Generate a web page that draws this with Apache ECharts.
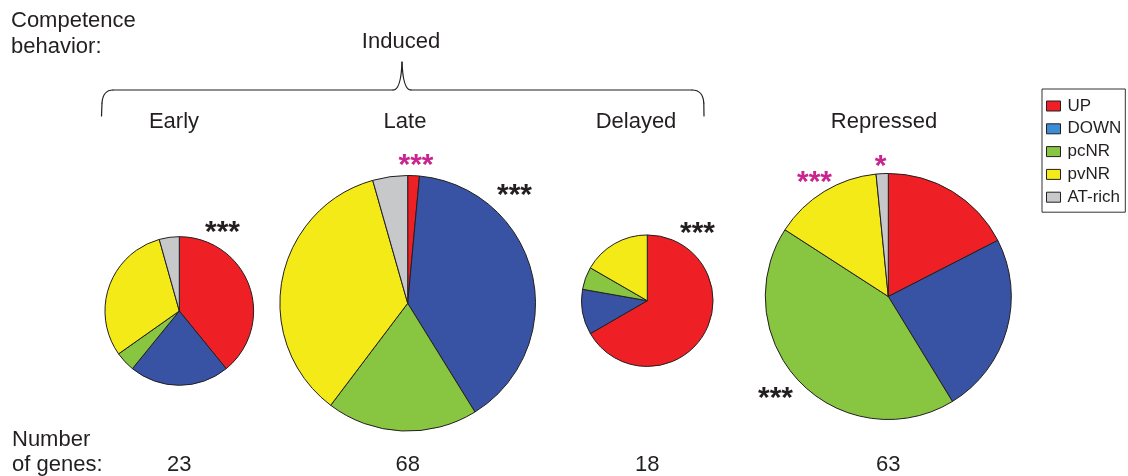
<!DOCTYPE html>
<html>
<head>
<meta charset="utf-8">
<script src="https://cdn.jsdelivr.net/npm/echarts@6/dist/echarts.min.js"></script>
<style>
  html, body { margin: 0; padding: 0; background: #fff; }
  #chart { width: 1128px; height: 476px; }
</style>
</head>
<body>
<div id="chart"></div>
<script>
// Competence gene groups and the number of genes in each promoter class
const groups = ['Early', 'Late', 'Delayed', 'Repressed'];
const classes = ['UP', 'DOWN', 'pcNR', 'pvNR', 'AT-rich'];
const upGenes = [9, 1, 12, 11];
const downGenes = [5, 27, 2, 15];
const pcnrGenes = [1, 13, 1, 27];
const pvnrGenes = [7, 24, 3, 9];
const atRichGenes = [1, 3, 0, 1];

const classValues = [upGenes, downGenes, pcnrGenes, pvnrGenes, atRichGenes];
const totals = groups.map((g, i) => classValues.reduce((s, arr) => s + arr[i], 0));

// styling
const FONT = '"Liberation Sans", Arial, Helvetica, sans-serif';
const INK = '#231F20';
const MAGENTA = '#C8258F';
const sliceColors = ['#EE1F25', '#3853A4', '#88C540', '#F3EA18', '#C7C8CA'];
const legendColors = ['#EE1F25', '#3C8CD6', '#88C540', '#F3EA18', '#C7C8CA'];
const pieCenters = [[179.3, 311], [407.7, 303.3], [647.3, 300.7], [888.3, 296.5]];
const groupTitleX = [174, 405, 636, 884];
const RADIUS_PER_SQRT_GENE = 15.5; // pie area proportional to gene count

const series = groups.map((g, i) => ({
  type: 'pie',
  name: g,
  center: pieCenters[i],
  radius: RADIUS_PER_SQRT_GENE * Math.sqrt(totals[i]),
  startAngle: 90,
  clockwise: true,
  silent: true,
  label: { show: false },
  labelLine: { show: false },
  emphasis: { disabled: true },
  itemStyle: { borderColor: INK, borderWidth: 1 },
  data: classes
    .map((c, j) => ({ name: c, value: classValues[j][i], itemStyle: { color: sliceColors[j] } }))
    .filter(d => d.value > 0)
}));

function txt(text, x, y, opts) {
  return {
    type: 'text', x: x, y: y, silent: true,
    style: Object.assign({
      text: text, fill: INK, font: '22px ' + FONT,
      align: 'left', verticalAlign: 'middle'
    }, opts || {})
  };
}
function stars(text, x, y, color) {
  return txt(text, x, y, { fill: color, font: 'bold 30px ' + FONT, align: 'center' });
}

// curly brace grouping the induced categories
const braceStyle = { stroke: INK, lineWidth: 1.2, fill: 'none', lineCap: 'round' };
function seg(x1, y1, x2, y2) {
  return { type: 'line', silent: true, shape: { x1, y1, x2, y2 }, style: braceStyle };
}
function curve(x1, y1, cpx1, cpy1, x2, y2) {
  return { type: 'bezierCurve', silent: true, shape: { x1, y1, cpx1, cpy1, x2, y2 }, style: braceStyle };
}
const brace = [
  seg(101.5, 116, 102, 103),
  curve(102, 103, 103, 90, 113, 90),
  seg(113, 90, 393, 90),
  curve(393, 90, 401, 90, 402, 62),
  curve(402, 62, 403, 90, 411, 90),
  seg(411, 90, 692, 90),
  curve(692, 90, 703, 90, 703.8, 103),
  seg(703.8, 103, 704, 116)
];

const graphic = [
  txt('Competence', 11, 20.6),
  txt('behavior:', 11, 47.3),
  txt('Induced', 401, 42, { align: 'center' }),
  ...brace,
  txt('Number', 12, 439.6),
  txt('of genes:', 12, 465.3)
];
groups.forEach((g, i) => {
  graphic.push(txt(g, groupTitleX[i], 121.5, { align: 'center' }));
  graphic.push(txt(String(totals[i]), pieCenters[i][0], 465.3, { align: 'center' }));
});
// enrichment significance marks
graphic.push(
  stars('***', 222.5, 232.6, INK),
  stars('***', 416, 165.6, MAGENTA),
  stars('***', 514.5, 195.6, INK),
  stars('***', 697.5, 234.1, INK),
  stars('*', 880.5, 166.6, MAGENTA),
  stars('***', 814.5, 182.6, MAGENTA),
  stars('***', 775.5, 399.1, INK)
);

const chart = echarts.init(document.getElementById('chart'), null, { renderer: 'canvas' });
chart.setOption({
  animation: false,
  backgroundColor: '#fff',
  legend: {
    orient: 'vertical',
    left: 1042,
    top: 89,
    icon: 'rect',
    itemWidth: 14,
    itemHeight: 10,
    itemGap: 0.8,
    padding: [6, 4, 4, 4],
    borderColor: '#333',
    borderWidth: 1,
    selectedMode: false,
    itemStyle: { borderColor: INK, borderWidth: 1 },
    textStyle: { fontFamily: FONT, fontSize: 17, color: INK, lineHeight: 22, padding: [0, 0, 0, 2] },
    data: classes.map((c, j) => ({ name: c, itemStyle: { color: legendColors[j] } }))
  },
  graphic: graphic,
  series: series
});
</script>
</body>
</html>
